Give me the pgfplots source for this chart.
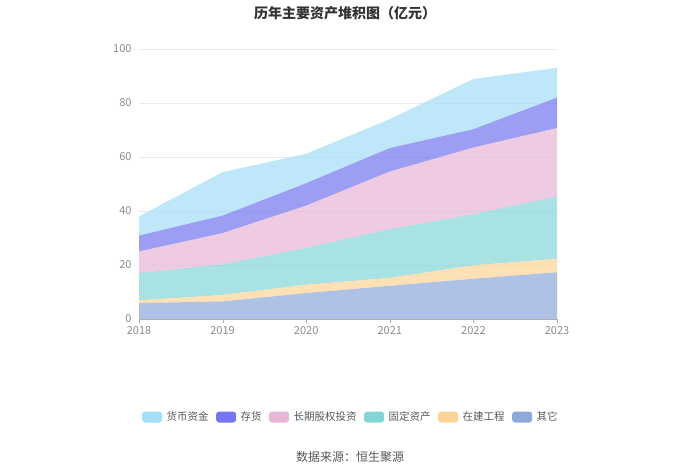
\documentclass[border=0pt]{standalone}
\usepackage{fontspec}
\setmainfont{Noto Sans CJK SC}
\usepackage{pgfplots}
\pgfplotsset{compat=1.18}
\definecolor{cCash}{HTML}{A5DEF8}
\definecolor{cInv}{HTML}{7376F0}
\definecolor{cEq}{HTML}{E8B6D6}
\definecolor{cFix}{HTML}{84D6D6}
\definecolor{cCon}{HTML}{FDD595}
\definecolor{cOth}{HTML}{8CA9DA}
\definecolor{tickgray}{HTML}{8C8C8C}
\definecolor{gridc}{HTML}{E6EAF2}
\begin{document}
\begin{tikzpicture}
\useasboundingbox[fill=white] (0,0) rectangle (700bp,474bp);
\node[font=\fontsize{14bp}{16bp}\selectfont\bfseries, text=black!80] at (345bp,461bp) {历年主要资产堆积图（亿元）};
\node[font=\fontsize{12bp}{14bp}\selectfont, text=black!65] at (350bp,17bp) {数据来源：恒生聚源};
\begin{axis}[
  at={(139bp,155bp)}, anchor=south west,
  width=418bp, height=270bp, scale only axis,
  xmin=2018, xmax=2023, ymin=0, ymax=100,
  xtick={2018,2019,2020,2021,2022,2023},
  ytick={0,20,40,60,80,100},
  x tick label style={/pgf/number format/1000 sep={}},
  /pgf/number format/assume math mode=true,
  ticklabel style={font=\fontsize{11bp}{13bp}\selectfont, text=tickgray},
  axis lines=left,
  axis line style={-},
  x axis line style={draw=tickgray!70},
  y axis line style={draw=none},
  ytick style={draw=none},
  xtick style={draw=tickgray!70},
  tick align=outside,
  major tick length=4bp,
  ymajorgrids, grid style={gridc, line width=0.8pt},
  stack plots=y,
  reverse legend,
  legend columns=6,
  legend style={at={(0.505,-0.363)}, anchor=center, draw=none, fill=none,
    font=\fontsize{10.5bp}{12bp}\selectfont, text=black!65,
    nodes={inner sep=0.5bp},
    /tikz/every odd column/.append style={column sep=4bp},
    /tikz/every even column/.append style={column sep=7bp}},
  legend image code/.code={\fill[#1, fill opacity=1, rounded corners=3bp] (0bp,-5.5bp) rectangle (20bp,5.5bp);},
  every axis plot/.append style={draw=none, fill opacity=0.7},
]
\addplot[fill=cOth] coordinates {(2018,5.9) (2019,6.5) (2020,9.6) (2021,12.3) (2022,14.9) (2023,17.3)} \closedcycle;
\addlegendentry{其它}
\addplot[fill=cCon] coordinates {(2018,1.0) (2019,2.4) (2020,3.1) (2021,2.9) (2022,5.0) (2023,5.0)} \closedcycle;
\addlegendentry{在建工程}
\addplot[fill=cFix] coordinates {(2018,10.1) (2019,11.4) (2020,13.6) (2021,18.1) (2022,18.9) (2023,23.1)} \closedcycle;
\addlegendentry{固定资产}
\addplot[fill=cEq] coordinates {(2018,8.0) (2019,11.5) (2020,15.7) (2021,21.3) (2022,24.7) (2023,25.3)} \closedcycle;
\addlegendentry{长期股权投资}
\addplot[fill=cInv] coordinates {(2018,5.9) (2019,6.5) (2020,8.3) (2021,8.7) (2022,6.8) (2023,11.3)} \closedcycle;
\addlegendentry{存货}
\addplot[fill=cCash] coordinates {(2018,7.1) (2019,16.1) (2020,10.9) (2021,10.7) (2022,18.6) (2023,11.0)} \closedcycle;
\addlegendentry{货币资金}
\end{axis}
\end{tikzpicture}
\end{document}
